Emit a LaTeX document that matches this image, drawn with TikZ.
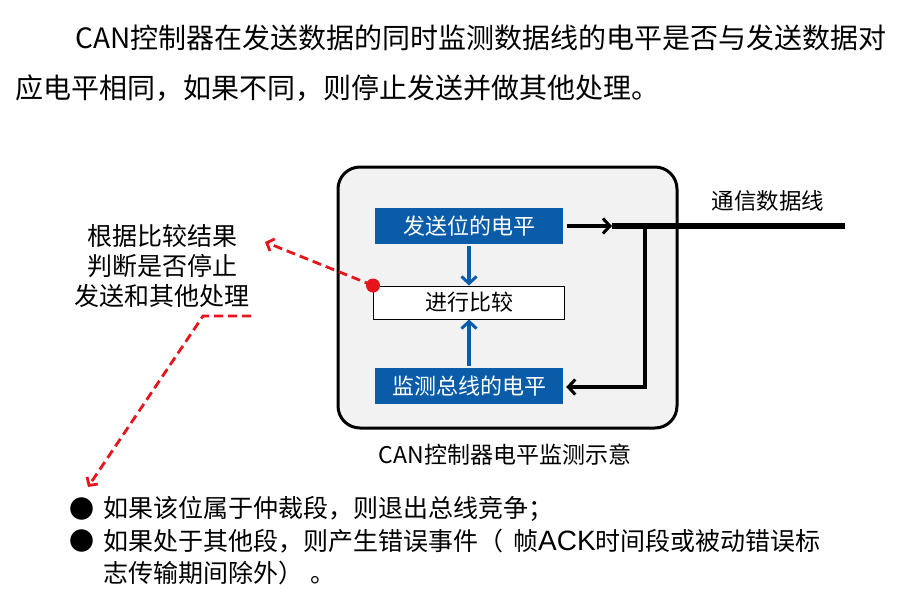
\documentclass[tikz,border=0pt]{standalone}
\usepackage{fontspec}
\setmainfont{Noto Sans CJK SC}
\newfontfamily\latinfont{Liberation Sans}
\usetikzlibrary{arrows.meta}
\definecolor{boxblue}{HTML}{0B5CA8}
\definecolor{panelgray}{HTML}{F2F2F2}
\definecolor{dashred}{HTML}{E8141C}
\begin{document}
\begin{tikzpicture}[x=1pt,y=-1pt,
  bluebox/.style={draw=none,fill=boxblue,text=white,minimum width=188pt,minimum height=36pt,inner sep=0pt,font=\fontsize{22}{24}\selectfont},
  cmpbox/.style={draw=black,line width=1pt,fill=white,minimum width=191pt,minimum height=33pt,inner sep=0pt,font=\fontsize{22}{24}\selectfont},
  bluearrow/.style={draw=boxblue,line width=3.5pt,-{Straight Barb[length=7pt,width=15pt,line width=3pt]}},
  blackarrow/.style={draw=black,line width=3.5pt,-{Straight Barb[length=7pt,width=15pt,line width=3pt]}},
  redarrow/.style={draw=dashred,line width=2.8pt,dash pattern=on 9pt off 5pt,-{Straight Barb[length=6pt,width=13pt,line width=2.8pt]}},
  plain/.style={inner sep=0pt,anchor=west}]
\useasboundingbox (0,0) rectangle (900,597);
\fill[white] (0,0) rectangle (900,597);

% top paragraph
\node[plain,font=\fontsize{28}{34}\selectfont] (p1) at (75,38) {CAN控制器在发送数据的同时监测数据线的电平是否与发送数据对};
\node[plain,font=\fontsize{28}{34}\selectfont] (p2) at (15,88) {应电平相同，如果不同，则停止发送并做其他处理。};

% panel
\draw[line width=3pt,fill=panelgray,rounded corners=22pt] (338,167) rectangle (677,428);
\node[font=\fontsize{23}{26}\selectfont,inner sep=0pt] (cap) at (505,455) {CAN控制器电平监测示意};

\node[bluebox] (send) at (469,226) {发送位的电平};
\node[cmpbox] (cmp) at (469,302.5) {进行比较};
\node[bluebox] (mon) at (469,386) {监测总线的电平};

\draw[bluearrow] (send.south) ++(0,2) -- (cmp.north);
\draw[bluearrow] (mon.north) ++(0,-2) -- (cmp.south);

% bus
\coordinate (busL) at (612,226);
\coordinate (busR) at (845,226);
\coordinate (tapT) at (645,226);
\coordinate (tapB) at (645,387);
\draw[blackarrow] ([xshift=4pt]send.east) -- (busL);
\draw[line width=6pt] (busL) -- (busR);
\draw[line width=3.5pt] (tapT) -- (tapB);
\draw[blackarrow] ([yshift=-1.75pt]tapB) |- ([xshift=3pt]mon.east |- tapB);
\node[font=\fontsize{22.5}{24}\selectfont,inner sep=0pt] (busl) at (768,201) {通信数据线};

% left annotation
\node[font=\fontsize{25}{30}\selectfont,align=center,inner sep=0pt] (note) at (162,266) {根据比较结果\\判断是否停止\\发送和其他处理};
\fill[dashred] (cmp.north west) circle (7pt);
\coordinate (noteend) at (265,242);
\draw[redarrow] (cmp.north west) -- (noteend);
\coordinate (d1) at (251,316);
\coordinate (d2) at (203,316);
\coordinate (d3) at (88,487);
\draw[redarrow] (d1) -- (d2) -- (d3);

% bullets
\node[plain,font=\fontsize{25}{32}\selectfont] (b1) at (69,509) {●};
\node[plain,font=\fontsize{25}{32}\selectfont] (b2) at (69,541) {●};
\node[plain,font=\fontsize{25}{32}\selectfont] (t1) at (103,509) {如果该位属于仲裁段，则退出总线竞争；};
\node[plain,font=\fontsize{25}{32}\selectfont] (t2) at (103,541) {如果处于其他段，则产生错误事件（\hspace{0.4em}帧{\latinfont\fontsize{28}{32}\selectfont ACK}时间段或被动错误标};
\node[plain,font=\fontsize{25}{32}\selectfont] (t3) at (103,573) {志传输期间除外）\hspace{0.3em}。};
\end{tikzpicture}
\end{document}
